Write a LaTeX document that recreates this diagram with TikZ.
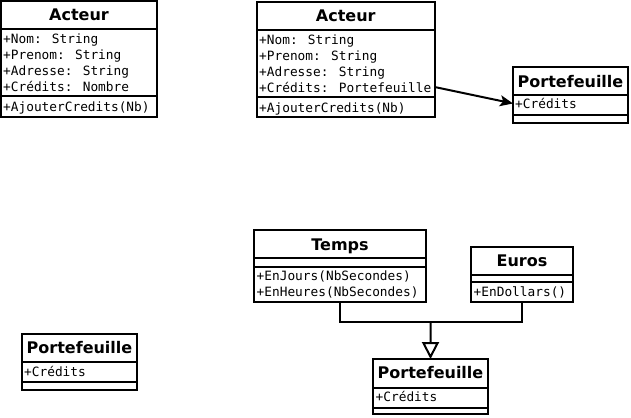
\documentclass[tikz,border=0pt]{standalone}
\usepackage{fontspec}
\newfontfamily\dvs{DejaVu Sans}
\newfontfamily\dvm{DejaVu Sans Mono}
\usetikzlibrary{arrows.meta}
\newcommand{\ttlf}{\dvs\bfseries\fontsize{16bp}{19bp}\selectfont}
\newcommand{\memf}{\dvm\fontsize{12.8bp}{16bp}\selectfont}
\tikzset{
  cls/.style={draw, line width=2bp, anchor=north west, inner sep=0pt, outer sep=0pt},
  ttl/.style={font=\ttlf, anchor=base, inner sep=0pt},
  mem/.style={font=\memf, anchor=base west, inner sep=0pt},
  sepline/.style={line width=2bp},
  conn/.style={line width=2bp}
}
\begin{document}
\begin{tikzpicture}[x=1bp, y=-1bp]
\useasboundingbox[fill=white] (0,0) rectangle (631,417);
% ---------- Acteur (left)
\node[cls, minimum width=156bp, minimum height=115.5bp] (a1) at (1,1) {};
\draw[sepline] (1,29) -- (157,29);
\draw[sepline] (1,96) -- (157,96);
\node[ttl] (a1t) at (79,20) {Acteur};
\node[mem] (a1m1) at (3,43) {+Nom: String};
\node[mem] (a1m2) at (3,59) {+Prenom: String};
\node[mem] (a1m3) at (3,75) {+Adresse: String};
\node[mem] (a1m4) at (3,91) {+Crédits: Nombre};
\node[mem] (a1o1) at (3,111) {+AjouterCredits(Nb)};
% ---------- Acteur (right)
\node[cls, minimum width=177.5bp, minimum height=115bp] (a2) at (257,2) {};
\draw[sepline] (257,30) -- (434.5,30);
\draw[sepline] (257,97) -- (434.5,97);
\node[ttl] (a2t) at (345.75,21) {Acteur};
\node[mem] (a2m1) at (259,44) {+Nom: String};
\node[mem] (a2m2) at (259,60) {+Prenom: String};
\node[mem] (a2m3) at (259,76) {+Adresse: String};
\node[mem] (a2m4) at (259,92) {+Crédits: Portefeuille};
\node[mem] (a2o1) at (259,112) {+AjouterCredits(Nb)};
% ---------- Portefeuille (top right)
\node[cls, minimum width=115bp, minimum height=56bp] (p1) at (513,67) {};
\draw[sepline] (513,94.5) -- (628,94.5);
\draw[sepline] (513,115) -- (628,115);
\node[ttl] (p1t) at (570.5,87) {Portefeuille};
\node[mem] (p1m1) at (515,108.5) {+Crédits};
% ---------- Portefeuille (bottom left)
\node[cls, minimum width=115bp, minimum height=56bp] (p2) at (22,334) {};
\draw[sepline] (22,362) -- (137,362);
\draw[sepline] (22,382) -- (137,382);
\node[ttl] (p2t) at (79.5,353) {Portefeuille};
\node[mem] (p2m1) at (24,376) {+Crédits};
% ---------- Temps
\node[cls, minimum width=172bp, minimum height=72bp] (temps) at (254,230) {};
\draw[sepline] (254,258) -- (426,258);
\draw[sepline] (254,267) -- (426,267);
\node[ttl] (tempst) at (340,250) {Temps};
\node[mem] (tempso1) at (256.5,280.5) {+EnJours(NbSecondes)};
\node[mem] (tempso2) at (256.5,296.5) {+EnHeures(NbSecondes)};
% ---------- Euros
\node[cls, minimum width=102bp, minimum height=55bp] (euros) at (471,247) {};
\draw[sepline] (471,275) -- (573,275);
\draw[sepline] (471,282) -- (573,282);
\node[ttl] (eurost) at (522,266) {Euros};
\node[mem] (euroso1) at (473.5,296.5) {+EnDollars()};
% ---------- Portefeuille (bottom)
\node[cls, minimum width=115bp, minimum height=55bp] (p3) at (373,359) {};
\draw[sepline] (373,388) -- (488,388);
\draw[sepline] (373,408) -- (488,408);
\node[ttl] (p3t) at (430.5,378.5) {Portefeuille};
\node[mem] (p3m1) at (375.5,401) {+Crédits};
% ---------- connectors
\draw[conn, -{Stealth[length=13bp, width=11bp, inset=3bp]}]
  (a2.east |- a2m4.center) -- (p1.west |- p1m1.center);
\coordinate (join) at (430.5,322);
\draw[conn] (temps.south) |- (join) -| (euros.south);
\draw[conn, -{Triangle[open, length=17bp, width=17bp]}] (join) -- (p3.north);
\end{tikzpicture}
\end{document}
